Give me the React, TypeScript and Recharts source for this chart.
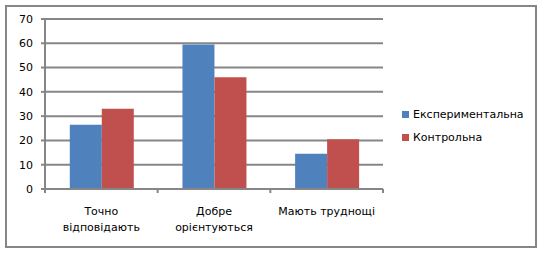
import { Bar, BarChart, CartesianGrid, Legend, XAxis, YAxis } from "recharts";

// chart values
const categories = ["Точно\nвідповідають", "Добре\nорієнтуються", "Мають труднощі"];
const experimental = [26.5, 59.5, 14.5];
const control = [33, 46, 20.5];
const yTicks = [0, 10, 20, 30, 40, 50, 60, 70];

const seriesNames = { experimental: "Експериментальна", control: "Контрольна" };
const colors = { experimental: "#4F81BD", control: "#C0504D" };

const data = categories.map((name, i) => ({
  name,
  experimental: experimental[i],
  control: control[i],
}));

const GRID = "#868686";
const FONT = "'DejaVu Sans', sans-serif";

// category label plus Excel-style tick marks on the band edges
function CategoryTick(props: any) {
  const { x, y, payload, index, visibleTicksCount } = props;
  const half = payload?.offset ?? 0;
  const lines = String(payload.value).split("\n");
  const last = index === (visibleTicksCount ?? categories.length) - 1;
  return (
    <g>
      <line x1={x - half} x2={x - half} y1={y} y2={y + 4} stroke={GRID} strokeWidth={2} />
      {last && <line x1={x + half} x2={x + half} y1={y} y2={y + 4} stroke={GRID} strokeWidth={2} />}
      <text x={x} y={y + 26} textAnchor="middle" fontSize={11} fill="#000" fontFamily={FONT}>
        {lines.map((l, i) => (
          <tspan key={i} x={x} dy={i === 0 ? 0 : 16}>
            {l}
          </tspan>
        ))}
      </text>
    </g>
  );
}

function LegendBox() {
  const rows = [
    { label: seriesNames.experimental, color: colors.experimental },
    { label: seriesNames.control, color: colors.control },
  ];
  return (
    <div style={{ fontFamily: FONT, fontSize: 11, color: "#000" }}>
      {rows.map((r) => (
        <div key={r.label} style={{ display: "flex", alignItems: "center", height: 23 }}>
          <span style={{ width: 7, height: 7, background: r.color, marginRight: 4 }} />
          <span>{r.label}</span>
        </div>
      ))}
    </div>
  );
}

export default function App() {
  return (
    <div style={{ position: "absolute", left: 0, top: 0, width: 541, height: 253, background: "#fff" }}>
      <div
        style={{
          position: "absolute",
          left: 5,
          top: 5,
          width: 532,
          height: 243,
          border: `2px solid ${GRID}`,
          boxSizing: "border-box",
        }}
      />
      <div style={{ position: "absolute", left: 0, top: 0 }}>
        <BarChart
          width={541}
          height={253}
          data={data}
          margin={{ top: 19, right: 158, left: 0, bottom: 24 }}
          barCategoryGap="22%"
          barGap={0}
        >
          <CartesianGrid horizontal vertical={false} stroke={GRID} strokeWidth={2} />
          <XAxis
            dataKey="name"
            height={40}
            axisLine={{ stroke: GRID, strokeWidth: 2 }}
            tickLine={false}
            tickSize={0}
            tickMargin={0}
            tick={<CategoryTick />}
            interval={0}
          />
          <YAxis
            width={45}
            domain={[0, 70]}
            ticks={yTicks}
            interval={0}
            axisLine={{ stroke: GRID, strokeWidth: 2 }}
            tickLine={{ stroke: GRID, strokeWidth: 2 }}
            tickSize={4}
            tickMargin={8}
            tick={{ fontSize: 11, fill: "#000", fontFamily: FONT }}
          />
          <Legend
            layout="horizontal"
            verticalAlign="middle"
            align="center"
            content={<LegendBox />}
            wrapperStyle={{ left: 402, top: 103, width: 135 }}
          />
          <Bar dataKey="experimental" name={seriesNames.experimental} fill={colors.experimental} isAnimationActive={false} />
          <Bar dataKey="control" name={seriesNames.control} fill={colors.control} isAnimationActive={false} />
        </BarChart>
      </div>
    </div>
  );
}
